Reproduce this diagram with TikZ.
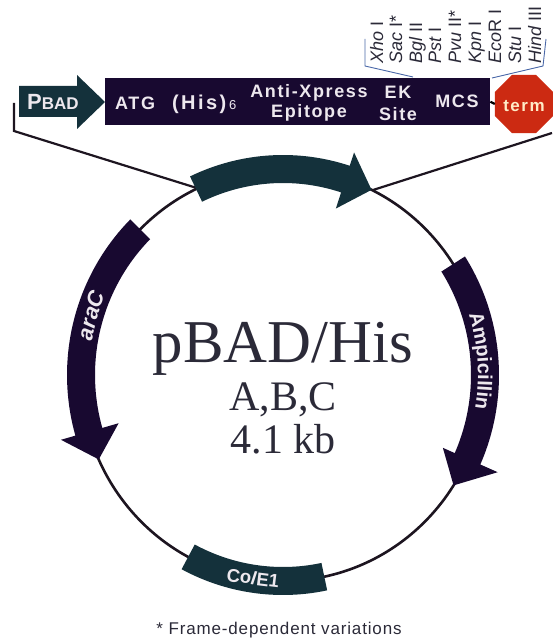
\documentclass[tikz,border=0pt]{standalone}
\usepackage{fontspec}
\usepackage{tikz}
\usetikzlibrary{shapes.geometric,decorations.text}
\setmainfont{Liberation Sans}
\newfontfamily\serifname{Liberation Serif}
\newfontfamily\boxfont[LetterSpace=9]{Liberation Sans}
\newfontfamily\hisfont[LetterSpace=12]{Liberation Sans}
\newfontfamily\footfont[LetterSpace=5]{Liberation Sans}
\newfontfamily\sitefont{Liberation Sans}
\definecolor{navy}{HTML}{180930}
\definecolor{tealdark}{HTML}{14313B}
\definecolor{termred}{HTML}{CC2A12}
\definecolor{wire}{HTML}{1D1520}
\definecolor{bracket}{HTML}{4A68A8}
\definecolor{labelwhite}{HTML}{EDE8EE}
\definecolor{inktext}{HTML}{2B2A38}
\newcommand{\fs}[1]{\fontsize{#1}{#1}\selectfont}
% tail angle, head-base angle, tip angle, inner barb, outer barb, colour
\newcommand{\bandarrow}[6]{\fill[#6] plot[domain=#1:#2,samples=40] ({px(\x,14)},{py(\x,14)}) -- ({px(#2,#5)},{py(#2,#5)}) -- ({px(#3,0)},{py(#3,0)}) -- ({px(#2,#4)},{py(#2,#4)}) -- plot[domain=#2:#1,samples=40] ({px(\x,-14)},{py(\x,-14)}) -- cycle;}
\tikzset{
  declare function={px(\a,\d)=283+(202+\d)*cos(\a);py(\a,\d)=375-(206+\d)*sin(\a);},
  boxlabel/.style={text=labelwhite,font=\boxfont\bfseries\fs{18},inner sep=0pt,anchor=base,align=center},
  site/.style={text=inktext,font=\sitefont\fs{18},inner sep=0pt,rotate=90,anchor=base west},
  title/.style={text=inktext,font=\serifname,inner sep=0pt,anchor=base},
  leader/.style={draw=wire,line width=2.2pt},
  plasmid/.style={draw=wire,line width=2.6pt},
  thinbracket/.style={draw=bracket,line width=0.9pt}
}
\begin{document}
\begin{tikzpicture}[x=1pt,y=-1pt]
\useasboundingbox (0,0) rectangle (552,639);
% plasmid ring
\draw[plasmid] (283,375) ellipse [x radius=202,y radius=206];
% leaders
\coordinate (lefttop) at (14,103);
\coordinate (leftbend) at (14,131);
\coordinate (ringL) at (200,189);
\coordinate (righttop) at (552,133);
\coordinate (ringR) at (373,190);
\draw[leader,line join=miter] (lefttop) -- (leftbend) -- (ringL);
\draw[leader] (righttop) -- (ringR);
% arcs
\bandarrow{115.5}{72}{64}{-31}{28}{tealdark}
\bandarrow{135}{196}{204.2}{-31}{29}{navy}
\bandarrow{32.6}{-24}{-32.4}{-27}{33}{navy}
\fill[tealdark] plot[domain=242:281.8,samples=30] ({px(\x,14)},{py(\x,14)}) -- plot[domain=281.8:242,samples=30] ({px(\x,-14)},{py(\x,-14)}) -- cycle;
% arc labels
\path[decorate,decoration={text along path,text={|\itshape\bfseries\fs{22}\color{labelwhite}|araC},text align={center}}] plot[domain=193:133,samples=40] ({px(\x,-8)},{py(\x,-8)});
\path[decorate,decoration={text along path,text={|\bfseries\fs{20}\color{labelwhite}|Ampicillin},text align={center}}] plot[domain=34:-26,samples=40] ({px(\x,-7)},{py(\x,-7)});
\node[text=labelwhite,font=\bfseries\fs{18.5},inner sep=0pt,rotate=-7] (cole) at (253,578) {Co\textit{l}E1};
% cassette
\fill[tealdark] (19,86) -- (77,86) -- (77,75) -- (105,102) -- (77,129) -- (77,117) -- (19,117) -- cycle;
\node[text=labelwhite,font=\bfseries,inner sep=0pt,anchor=base west] (pbad) at (27,110) {{\fs{22}P}{\fs{17}BAD}};
\node[fill=navy,minimum width=385pt,minimum height=47pt,inner sep=0pt,anchor=north west] (cassette) at (105,78) {};
\node[regular polygon,regular polygon sides=8,fill=termred,minimum size=62.8pt,inner sep=0pt] (term) at (524,104) {};
\draw[line width=2.2pt,draw=black] (cassette.east) -- (term.west);
\node[text={rgb,255:red,255;green,236;blue,200},font=\boxfont\bfseries\fs{17},inner sep=0pt,anchor=base] (termtext) at (524,112) {term};
\node[boxlabel,anchor=base west] (atg) at (115,110) {ATG};
\node[boxlabel,anchor=base west,font=\hisfont\bfseries\fs{20}] (his) at (172,110) {(His)};
\node[text=labelwhite,font=\fs{13},inner sep=0pt,anchor=base west] (six) at (229,110) {6};
\node[boxlabel] (anti) at (309,98) {Anti-Xpress};
\node[boxlabel] (epi) at (309,118) {Epitope};
\node[boxlabel] (ek) at (398,99) {EK};
\node[boxlabel] (sitelabel) at (398,121) {Site};
\node[boxlabel] (mcs) at (457,108) {MCS};
% bracket
\coordinate (b1) at (365,39);
\coordinate (b2) at (365,66);
\coordinate (b3) at (413,77);
\coordinate (b4) at (492,78);
\coordinate (b5) at (543,66);
\coordinate (b6) at (546,39);
\draw[thinbracket] (b1) -- (b2) -- (b3);
\draw[thinbracket] (b4) -- (b5) -- (b6);
% sites
\node[site] (s1) at (383,64) {\textit{Xho} I};
\node[site] (s2) at (402,64) {\textit{Sac} I*};
\node[site] (s3) at (422,64) {\textit{Bgl} II};
\node[site] (s4) at (441,64) {\textit{Pst} I};
\node[site] (s5) at (461,64) {\textit{Pvu} II*};
\node[site] (s6) at (481,64) {\textit{Kpn} I};
\node[site] (s7) at (501,64) {\textit{Eco}R I};
\node[site] (s8) at (521,64) {\textit{Stu} I};
\node[site] (s9) at (541,64) {\textit{Hind} III};
% centre text
\node[title] (t1) at (283,362) {\fs{60.8}pBAD/His};
\node[title] (t2) at (283,410) {\fs{42}A,B,C};
\node[title] (t3) at (283,453) {\fs{42}4.1 kb};
% footnote
\node[text=inktext,font=\footfont\fs{17},inner sep=0pt,anchor=base] (foot) at (279,634) {* Frame-dependent variations};
\end{tikzpicture}
\end{document}
